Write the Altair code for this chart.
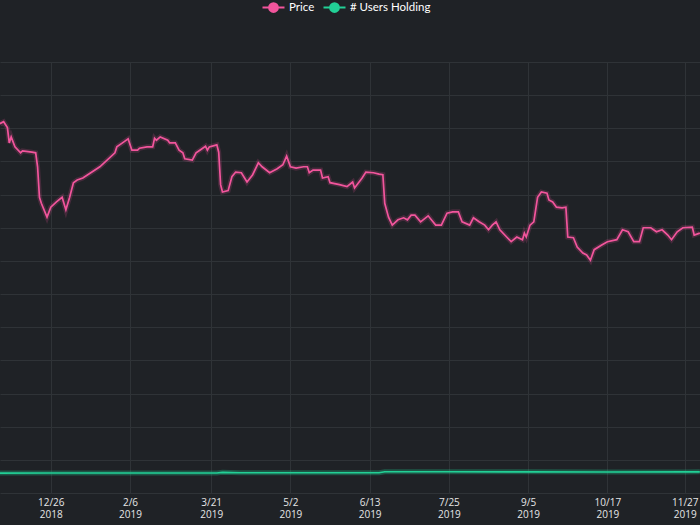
import altair as alt
import pandas as pd

# ---- data ----
price_dates = [
    "2018-11-29", "2018-12-01", "2018-12-03", "2018-12-04", "2018-12-05", "2018-12-07",
    "2018-12-10", "2018-12-11", "2018-12-16", "2018-12-18", "2018-12-19", "2018-12-20",
    "2018-12-21", "2018-12-24", "2018-12-26", "2018-12-29", "2019-01-01", "2019-01-03",
    "2019-01-05", "2019-01-07", "2019-01-09", "2019-01-12", "2019-01-21", "2019-01-29",
    "2019-01-30", "2019-02-02", "2019-02-05", "2019-02-07", "2019-02-10", "2019-02-11",
    "2019-02-15", "2019-02-18", "2019-02-19", "2019-02-20", "2019-02-22", "2019-02-26",
    "2019-02-27", "2019-03-02", "2019-03-04", "2019-03-06", "2019-03-07", "2019-03-11",
    "2019-03-13", "2019-03-15", "2019-03-18", "2019-03-19", "2019-03-20", "2019-03-24",
    "2019-03-25", "2019-03-26", "2019-03-27", "2019-03-30", "2019-04-01", "2019-04-03",
    "2019-04-06", "2019-04-09", "2019-04-12", "2019-04-15", "2019-04-17", "2019-04-21",
    "2019-04-25", "2019-04-28", "2019-04-30", "2019-05-02", "2019-05-05", "2019-05-09",
    "2019-05-11", "2019-05-12", "2019-05-14", "2019-05-18", "2019-05-19", "2019-05-22",
    "2019-05-23", "2019-05-28", "2019-06-01", "2019-06-04", "2019-06-05", "2019-06-09",
    "2019-06-11", "2019-06-15", "2019-06-18", "2019-06-20", "2019-06-21", "2019-06-23",
    "2019-06-25", "2019-06-28", "2019-07-01", "2019-07-03", "2019-07-05", "2019-07-07",
    "2019-07-10", "2019-07-14", "2019-07-18", "2019-07-21", "2019-07-24", "2019-07-27",
    "2019-07-30", "2019-08-01", "2019-08-05", "2019-08-07", "2019-08-10", "2019-08-13",
    "2019-08-15", "2019-08-17", "2019-08-19", "2019-08-21", "2019-08-25", "2019-08-27",
    "2019-08-30", "2019-09-02", "2019-09-03", "2019-09-04", "2019-09-06", "2019-09-08",
    "2019-09-10", "2019-09-12", "2019-09-15", "2019-09-16", "2019-09-18", "2019-09-20",
    "2019-09-23", "2019-09-25", "2019-09-26", "2019-09-29", "2019-10-01", "2019-10-04",
    "2019-10-06", "2019-10-08", "2019-10-10", "2019-10-14", "2019-10-17", "2019-10-22",
    "2019-10-25", "2019-10-28", "2019-10-31", "2019-11-03", "2019-11-05", "2019-11-09",
    "2019-11-12", "2019-11-15", "2019-11-18", "2019-11-20", "2019-11-23", "2019-11-26",
    "2019-12-01", "2019-12-02", "2019-12-05",
]
price_values = [
    55.7, 56.0, 55.1, 52.8, 53.7, 52.2,
    51.3, 51.6, 51.4, 51.3, 49.2, 44.6,
    43.7, 41.6, 43.1, 43.9, 44.6, 42.7,
    44.6, 46.8, 47.2, 47.5, 49.2, 51.3,
    52.2, 52.8, 53.4, 51.7, 51.7, 52.0,
    52.2, 52.2, 53.5, 53.2, 53.7, 53.2,
    52.8, 52.8, 51.7, 51.3, 50.4, 50.2,
    51.3, 51.7, 52.3, 51.7, 52.2, 52.5,
    51.4, 46.5, 45.4, 45.6, 47.7, 48.4,
    48.3, 46.9, 48.0, 49.8, 49.2, 48.3,
    48.9, 49.5, 50.8, 49.2, 49.0, 49.2,
    49.2, 48.3, 48.7, 48.7, 47.5, 47.7,
    46.8, 46.5, 46.2, 46.9, 46.0, 47.5,
    48.4, 48.3, 48.1, 48.0, 43.7, 41.6,
    40.4, 41.2, 41.5, 41.2, 41.9, 41.9,
    40.9, 41.8, 40.4, 40.4, 42.2, 42.4,
    42.4, 40.9, 40.4, 41.5, 40.9, 40.4,
    39.7, 40.4, 40.9, 39.7, 38.5, 37.9,
    38.6, 38.2, 39.2, 38.6, 40.4, 40.9,
    44.6, 45.4, 45.2, 44.2, 43.9, 43.1,
    43.0, 43.1, 38.6, 38.5, 37.1, 36.2,
    35.9, 35.1, 36.7, 37.4, 37.9, 38.2,
    39.7, 39.4, 37.9, 37.9, 40.0, 40.0,
    39.4, 39.7, 38.9, 38.2, 39.4, 40.0,
    40.1, 38.9, 39.2,
]

users_dates = [
    "2018-11-29", "2018-12-26", "2019-02-06", "2019-03-24", "2019-03-27",
    "2019-04-05", "2019-06-18", "2019-06-21", "2019-07-25", "2019-09-05",
    "2019-10-17", "2019-11-27", "2019-12-05",
]
users_values = [
    2400, 2405, 2410, 2415, 2490,
    2440, 2450, 2570, 2565, 2550,
    2540, 2545, 2550,
]

series_names = ["Price", "# Users Holding"]
series_colors = ["#f2559c", "#22d096"]

tick_dates = [
    (2018, 12, 26), (2019, 2, 6), (2019, 3, 21), (2019, 5, 2), (2019, 6, 13),
    (2019, 7, 25), (2019, 9, 5), (2019, 10, 17), (2019, 11, 27),
]

price_df = pd.DataFrame({"date": price_dates, "price": price_values, "series": series_names[0]})
users_df = pd.DataFrame({"date": users_dates, "users": users_values, "series": series_names[1]})

# ---- styling ----
BG = "#1f2226"
GRID = "#2f3337"
FONT = "Open Sans"
LEGEND_FONT = "Lato"

x_scale = alt.Scale(
    type="utc",
    domain=[
        alt.DateTime(year=2018, month=11, date=29, hours=2, utc=True),
        alt.DateTime(year=2019, month=12, date=5, hours=2, utc=True),
    ],
    nice=False,
)
x_axis = alt.Axis(
    title=None,
    values=[alt.DateTime(year=y, month=m, date=d, utc=True) for (y, m, d) in tick_dates],
    labelExpr="[utcFormat(datum.value, '%-m/%-d'), utcFormat(datum.value, '%Y')]",
    labelColor="#e6e6e6",
    labelFont=FONT,
    labelFontSize=10,
    labelLineHeight=12,
    labelPadding=4,
    labelBaseline="top",
    labelFlush=False,
    labelOverlap=False,
    domain=False,
    ticks=False,
    grid=True,
    gridColor=GRID,
    gridWidth=1,
)
x_enc = alt.X("date:T", scale=x_scale, axis=x_axis)

price_y = alt.Y(
    "price:Q",
    scale=alt.Scale(domain=[0, 65], nice=False, zero=False),
    axis=alt.Axis(
        title=None, labels=False, ticks=False, domain=False, grid=True,
        gridColor=GRID, values=list(range(0, 70, 5)),
    ),
)
price_y_plain = alt.Y("price:Q", scale=alt.Scale(domain=[0, 65], nice=False, zero=False), axis=None)
users_y = alt.Y("users:Q", scale=alt.Scale(domain=[0, 52000], nice=False, zero=False), axis=None)

# line-through-dot legend symbol: line spans +/-2 units, dot radius 0.8 units
path = "M-2,0L2,0M-0.8,0A0.8,0.8,0,1,1,0.8,0A0.8,0.8,0,1,1,-0.8,0Z"
color_enc = alt.Color(
    "series:N",
    scale=alt.Scale(domain=series_names, range=series_colors),
    legend=alt.Legend(
        title=None,
        orient="none",
        direction="horizontal",
        legendX=267,
        legendY=-61,
        symbolType=path,
        symbolSize=121,
        symbolStrokeWidth=2,
        symbolOpacity=1,
        labelColor="#ffffff",
        labelFont=LEGEND_FONT,
        labelFontSize=11.5,
        labelOffset=9,
        columnPadding=4,
    ),
)

legend_pts = alt.Chart(price_df).mark_point(filled=True, size=0, opacity=1).encode(
    x=x_enc, y=price_y_plain, color=color_enc
)
price_halo = alt.Chart(price_df).mark_line(
    color=series_colors[0], strokeWidth=5, opacity=0.18, clip=True
).encode(x=x_enc, y=price_y_plain)
price_line = alt.Chart(price_df).mark_line(strokeWidth=1.7, clip=True).encode(
    x=x_enc, y=price_y, color=color_enc
)
users_halo = alt.Chart(users_df).mark_line(
    color=series_colors[1], strokeWidth=5, opacity=0.3, clip=True
).encode(x=x_enc, y=users_y)
users_line = alt.Chart(users_df).mark_line(strokeWidth=1.6, clip=True).encode(
    x=x_enc, y=users_y, color=color_enc
)

chart = (
    alt.layer(legend_pts, price_halo, price_line, users_halo, users_line)
    .resolve_scale(y="independent")
    .properties(
        width=700,
        height=431,
        autosize="none",
        padding={"top": 62, "left": 0, "right": 0, "bottom": 32},
        background=BG,
    )
    .configure_view(stroke=None)
)

chart.save("out.html", embed_options={"renderer": "svg", "actions": False})
